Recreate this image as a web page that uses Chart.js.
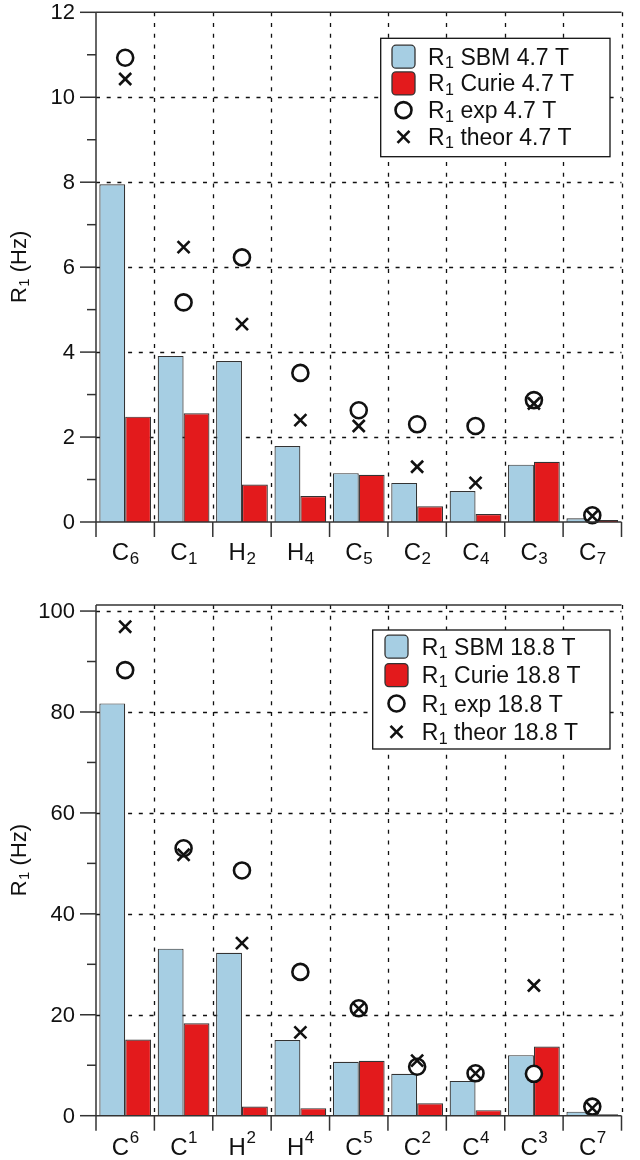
<!DOCTYPE html>
<html>
<head>
<meta charset="utf-8">
<title>R1 relaxation rates</title>
<script src="https://cdn.jsdelivr.net/npm/chart.js@4.4.1/dist/chart.umd.min.js"></script>
<style>
  body { margin: 0; background: #fff; }
  canvas { display: block; }
</style>
</head>
<body>
<canvas id="chart47" width="640" height="580"></canvas>
<canvas id="chart188" width="640" height="580"></canvas>
<script>
// Nuclei, in plot order (letter + position number)
const categories = ['C6', 'C1', 'H2', 'H4', 'C5', 'C2', 'C4', 'C3', 'C7'];

// 4.7 T panel (Hz)
const sbm47 = [7.95, 3.91, 3.79, 1.79, 1.15, 0.92, 0.73, 1.35, 0.09];
const curie47 = [2.48, 2.56, 0.88, 0.61, 1.11, 0.37, 0.19, 1.42, 0.05];
const exp47 = [10.93, 5.17, 6.23, 3.51, 2.63, 2.30, 2.26, 2.87, 0.16];
const theor47 = [10.43, 6.47, 4.66, 2.40, 2.26, 1.30, 0.92, 2.79, 0.14];

// 18.8 T panel (Hz)
const sbm188 = [81.7, 33.1, 32.3, 15.0, 10.7, 8.3, 6.9, 12.0, 0.8];
const curie188 = [15.1, 18.3, 1.8, 1.5, 10.9, 2.45, 1.1, 13.7, 0.3];
const exp188 = [88.3, 53.0, 48.6, 28.5, 21.3, 9.7, 8.4, 8.3, 1.8];
const theor188 = [96.9, 51.7, 34.2, 16.5, 21.2, 10.9, 8.4, 25.8, 1.5];

// Axis ticks
const majorTicks47 = [0, 2, 4, 6, 8, 10, 12];
const minorTicks47 = [1, 3, 5, 7, 9, 11];
const majorTicks188 = [0, 20, 40, 60, 80, 100];
const minorTicks188 = [10, 30, 50, 70, 90];

const FONT = "'Liberation Sans', Arial, Helvetica, sans-serif";
const INK = '#111';
const EDGE = '#333';
const SBM_BLUE = '#a6cee3';
const CURIE_RED = '#e31a1c';

/**
 * Draw text like "R" + small "1" + rest, with the small part as sub- or superscript.
 */
const richText = function(ctx, x, y, base, small, rest, size, mode, align) {
    const smallSize = Math.round(size * 0.7);
    ctx.font = size + 'px ' + FONT;
    const wBase = ctx.measureText(base).width;
    const wRest = rest ? ctx.measureText(rest).width : 0;
    ctx.font = smallSize + 'px ' + FONT;
    const wSmall = ctx.measureText(small).width;
    const x0 = align === 'center' ? x - (wBase + wSmall + wRest) / 2 : x;

    ctx.textAlign = 'left';
    ctx.textBaseline = 'alphabetic';
    ctx.font = size + 'px ' + FONT;
    ctx.fillText(base, x0, y);
    ctx.font = smallSize + 'px ' + FONT;
    ctx.fillText(small, x0 + wBase + 0.5, mode === 'sup' ? y - size * 0.5 : y + size * 0.16);
    if (rest) {
        ctx.font = size + 'px ' + FONT;
        ctx.fillText(rest, x0 + wBase + wSmall + 0.5, y);
    }
};

const line = function(ctx, x1, y1, x2, y2) {
    ctx.beginPath();
    ctx.moveTo(x1, y1);
    ctx.lineTo(x2, y2);
    ctx.stroke();
};

// Grid, frame, ticks, labels and legend drawn from the chart's own scales
const axisFrame = {
    id: 'axisFrame',
    beforeDatasetsDraw(chart, args, opts) {
        const {ctx, chartArea: a, scales: {x, y}} = chart;
        ctx.save();
        ctx.strokeStyle = INK;
        ctx.lineWidth = 1.3;
        ctx.setLineDash([4, 6.7]);
        opts.majors.forEach(function(v) {
            if (v > y.min && v < y.max) {
                const py = Math.round(y.getPixelForValue(v)) + 0.5;
                line(ctx, a.left, py, a.right, py);
            }
        });
        for (let i = 1; i <= categories.length; i++) {
            const px = Math.round(x.getPixelForValue(i - 0.5)) + 0.5;
            line(ctx, px, a.top, px, a.bottom);
        }
        ctx.restore();
    },
    afterDatasetsDraw(chart, args, opts) {
        const {ctx, chartArea: a, scales: {x, y}} = chart;
        ctx.save();
        ctx.strokeStyle = EDGE;
        ctx.lineWidth = 1.5;
        ctx.setLineDash([]);

        // frame: left axis, bottom axis, top border
        line(ctx, a.left, a.top, a.left, a.bottom);
        line(ctx, a.left, a.bottom, a.right, a.bottom);
        line(ctx, a.left, a.top, a.right, a.top);

        // y ticks and labels
        ctx.fillStyle = INK;
        ctx.font = '22px ' + FONT;
        ctx.textAlign = 'right';
        ctx.textBaseline = 'middle';
        opts.majors.forEach(function(v) {
            const py = y.getPixelForValue(v);
            line(ctx, a.left - 16, py, a.left, py);
            ctx.fillText(String(v), a.left - 21, py + 1);
        });
        opts.minors.forEach(function(v) {
            const py = y.getPixelForValue(v);
            line(ctx, a.left - 9, py, a.left, py);
        });

        // x ticks at category boundaries and nucleus labels
        for (let i = 0; i <= categories.length; i++) {
            const px = x.getPixelForValue(i - 0.5);
            line(ctx, px, a.bottom, px, a.bottom + 15);
        }
        categories.forEach(function(c, i) {
            richText(ctx, x.getPixelForValue(i), a.bottom + opts.labelDrop, c.charAt(0), c.slice(1), '',
                24, opts.labelMode, 'center');
        });

        // y title
        ctx.save();
        ctx.translate(25.5, (a.top + a.bottom) / 2);
        ctx.rotate(-Math.PI / 2);
        richText(ctx, 0, 0, 'R', '1', ' (Hz)', 22, 'sub', 'center');
        ctx.restore();

        // legend
        const lg = opts.legend;
        ctx.fillStyle = '#fff';
        ctx.fillRect(lg.box[0], lg.box[1], lg.box[2] - lg.box[0], lg.box[3] - lg.box[1]);
        ctx.strokeStyle = INK;
        ctx.lineWidth = 1.3;
        ctx.strokeRect(lg.box[0], lg.box[1], lg.box[2] - lg.box[0], lg.box[3] - lg.box[1]);
        chart.data.datasets.forEach(function(ds, i) {
            const cy = lg.firstRow + i * lg.rowStep;
            const cx = lg.markX;
            ctx.lineWidth = 1.3;
            ctx.strokeStyle = EDGE;
            if (ds.type === 'line') {
                ctx.strokeStyle = INK;
                ctx.lineWidth = 2.6;
                if (ds.pointStyle === 'circle') {
                    ctx.beginPath();
                    ctx.arc(cx, cy, 8, 0, Math.PI * 2);
                    ctx.fillStyle = '#fff';
                    ctx.fill();
                    ctx.stroke();
                } else {
                    line(ctx, cx - 6, cy - 6, cx + 6, cy + 6);
                    line(ctx, cx - 6, cy + 6, cx + 6, cy - 6);
                }
            } else {
                ctx.beginPath();
                ctx.roundRect(cx - 11.5, cy - 11.5, 23, 23, 4);
                ctx.fillStyle = ds.backgroundColor;
                ctx.fill();
                ctx.stroke();
            }
            ctx.fillStyle = INK;
            richText(ctx, lg.textX, cy + 8, ds.label.charAt(0), ds.label.charAt(1), ds.label.slice(2),
                23, 'sub', 'left');
        });
        ctx.restore();
    }
};

/**
 * Build one panel.
 */
const makePanel = function(id, field, values, ticks, layout) {
    return new Chart(document.getElementById(id), {
        type: 'bar',
        data: {
            labels: categories,
            datasets: [
                {
                    label: 'R1 SBM ' + field,
                    data: values.sbm,
                    backgroundColor: SBM_BLUE,
                    borderColor: EDGE,
                    borderWidth: 1.2,
                    categoryPercentage: 0.886,
                    barPercentage: 1,
                    order: 2
                },
                {
                    label: 'R1 Curie ' + field,
                    data: values.curie,
                    backgroundColor: CURIE_RED,
                    borderColor: EDGE,
                    borderWidth: 1.2,
                    categoryPercentage: 0.886,
                    barPercentage: 1,
                    order: 3
                },
                {
                    type: 'line',
                    label: 'R1 exp ' + field,
                    data: values.exp,
                    showLine: false,
                    pointStyle: 'circle',
                    pointRadius: 8,
                    pointBorderWidth: 2.6,
                    pointBorderColor: INK,
                    pointBackgroundColor: '#fff',
                    clip: false,
                    order: 1
                },
                {
                    type: 'line',
                    label: 'R1 theor ' + field,
                    data: values.theor,
                    showLine: false,
                    pointStyle: 'crossRot',
                    pointRadius: 8.5,
                    pointBorderWidth: 2.6,
                    pointBorderColor: INK,
                    clip: false,
                    order: 0
                }
            ]
        },
        options: {
            responsive: false,
            animation: false,
            devicePixelRatio: 1,
            events: [],
            layout: {padding: layout.padding},
            scales: {
                x: {display: false},
                y: {display: false, min: 0, max: layout.max}
            },
            plugins: {
                legend: {display: false},
                tooltip: {enabled: false},
                axisFrame: {
                    majors: ticks.majors,
                    minors: ticks.minors,
                    labelMode: layout.labelMode,
                    labelDrop: layout.labelDrop,
                    legend: layout.legend
                }
            }
        },
        plugins: [axisFrame]
    });
};

makePanel('chart47', '4.7 T',
    {sbm: sbm47, curie: curie47, exp: exp47, theor: theor47},
    {majors: majorTicks47, minors: minorTicks47},
    {
        max: 12,
        padding: {left: 96, right: 18.5, top: 12.3, bottom: 58},
        labelMode: 'sub',
        labelDrop: 38,
        legend: {box: [380.7, 38.3, 610, 156.7], firstRow: 56.7, rowStep: 26.7, markX: 403.5, textX: 428}
    });

makePanel('chart188', '18.8 T',
    {sbm: sbm188, curie: curie188, exp: exp188, theor: theor188},
    {majors: majorTicks188, minors: minorTicks188},
    {
        max: 101.2,
        padding: {left: 96, right: 18.5, top: 25, bottom: 44.3},
        labelMode: 'sup',
        labelDrop: 39,
        legend: {box: [372.7, 50, 610, 169], firstRow: 66.7, rowStep: 28.4, markX: 396.5, textX: 421.7}
    });
</script>
</body>
</html>
